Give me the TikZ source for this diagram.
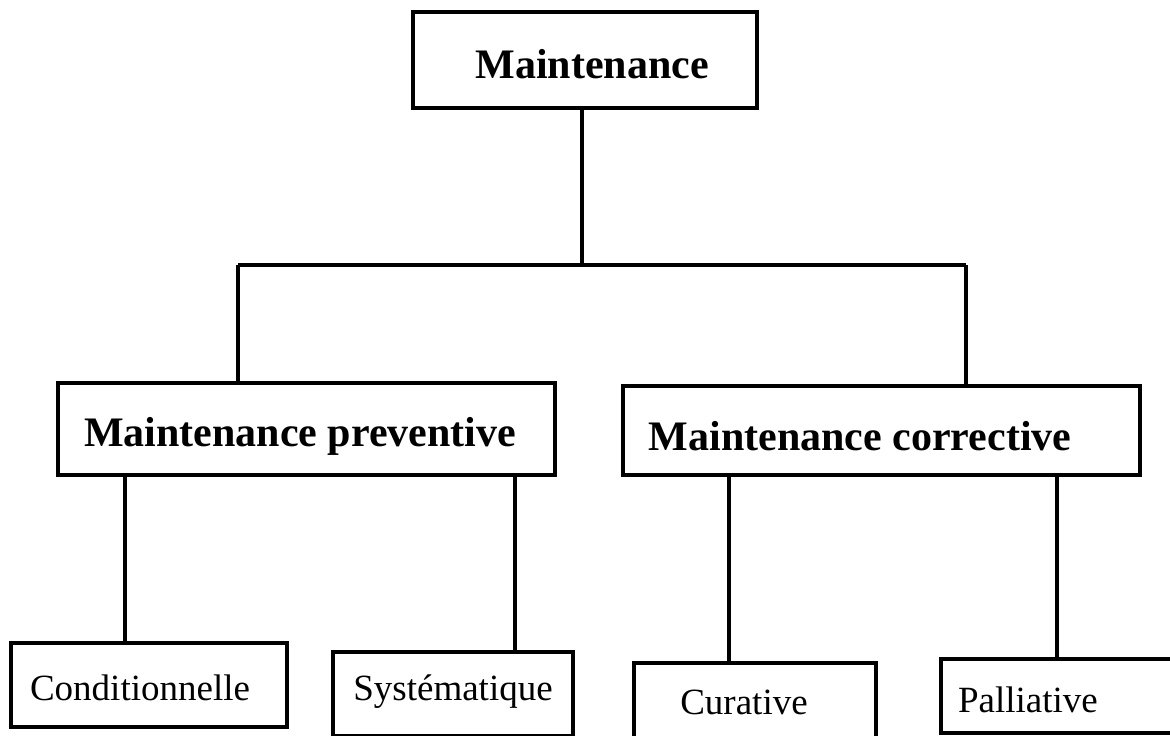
\documentclass[tikz,border=0pt]{standalone}
\usepackage{fontspec}
\setmainfont{Liberation Serif}
\begin{document}
\begin{tikzpicture}[x=1pt,y=-1pt,
  box/.style={draw=black,line width=3.5pt,inner sep=0pt,fill=none},
  big/.style={font=\fontsize{42}{48}\selectfont\bfseries},
  small/.style={font=\fontsize{37}{44}\selectfont},
  link/.style={draw=black,line width=3.5pt}]
\clip (0,0) rectangle (1170,736);
\fill[white] (0,0) rectangle (1170,736);
% boxes
\node[box,minimum width=344pt,minimum height=96pt] (m) at (585,60) {};
\node[big] at (592,64) {Maintenance};
\node[box,minimum width=497pt,minimum height=92pt] (pv) at (306.5,429) {};
\node[big] at (300,436) {Maintenance preventive};
\node[box,minimum width=517pt,minimum height=89pt] (cr) at (881.5,430.5) {};
\node[big] at (860,436) {Maintenance corrective};
\node[box,minimum width=276pt,minimum height=84pt] (c1) at (149,685) {};
\node[small] at (140,688) {Conditionnelle};
\node[box,minimum width=240pt,minimum height=84pt] (c2) at (453,694) {};
\node[small] at (453,692) {Systématique};
\node[box,minimum width=242pt,minimum height=90pt] (c3) at (755,708) {};
\node[small] at (744,702) {Curative};
\node[box,minimum width=260pt,minimum height=74pt] (c4) at (1071,696) {};
\node[small] at (1028,700) {Palliative};
% connector points
\coordinate (hm) at (582,265);
\coordinate (hl) at (238,265);
\coordinate (hr) at (966,265);
\coordinate (p1) at (125,0);
\coordinate (p2) at (515,0);
\coordinate (q1) at (729,0);
\coordinate (q2) at (1057,0);
% connectors
\draw[link] (m.south -| hm) -- (hm);
\draw[link] (hl) -- (hr);
\draw[link] (hl) -- (hl |- pv.north);
\draw[link] (hr) -- (hr |- cr.north);
\draw[link] (pv.south -| p1) -- (c1.north -| p1);
\draw[link] (pv.south -| p2) -- (c2.north -| p2);
\draw[link] (cr.south -| q1) -- (c3.north -| q1);
\draw[link] (cr.south -| q2) -- (c4.north -| q2);
\end{tikzpicture}
\end{document}
